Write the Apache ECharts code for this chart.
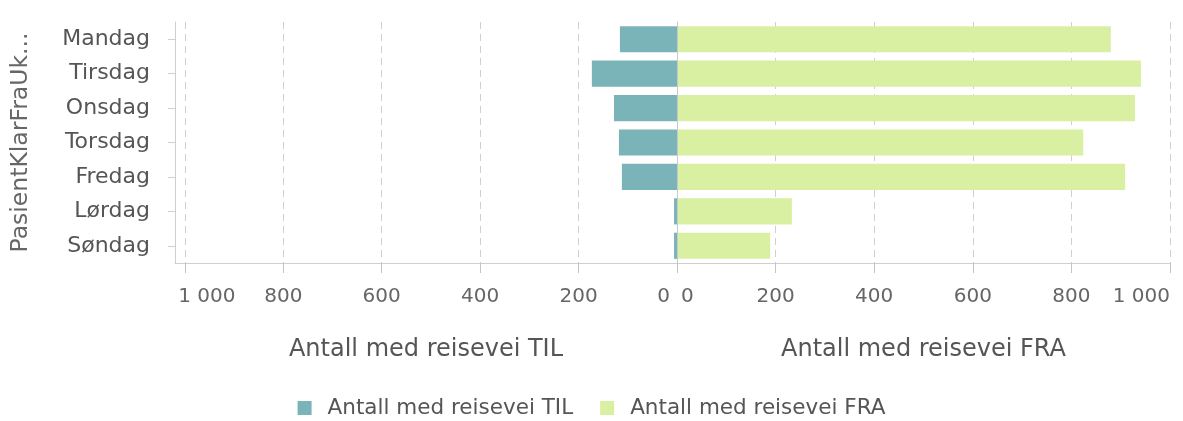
<!DOCTYPE html>
<html><head><meta charset="utf-8">
<script src="https://cdn.jsdelivr.net/npm/echarts@6/dist/echarts.min.js"></script>
<style>html,body{margin:0;padding:0;background:#fff}#c{width:1183px;height:421px}</style>
</head><body><div id="c"></div>
<script>
const categories = ['Mandag','Tirsdag','Onsdag','Torsdag','Fredag','Lørdag','Søndag'];
const tilValues = [116,173,128,118,112,6,6];
const fraValues = [880,941,929,824,909,233,189];
const tickValues = [0,200,400,600,800,1000];
const seriesNames = ['Antall med reisevei TIL','Antall med reisevei FRA'];
const yAxisName = 'PasientKlarFraUk...';

const FONT = 'DejaVu Sans';
const gridLine = '#cfcfcf';
const tickColor = '#c4c4c4';
const num = v => String(v).replace(/\B(?=(\d{3})+(?!\d))/g, ' ');
const labelBase = {fontSize: 20, color: '#666', fontFamily: FONT};

const chart = echarts.init(document.getElementById('c'));
chart.setOption({
  animation: false,
  textStyle: {fontFamily: FONT},
  legend: {
    top: 392, left: 'center', itemWidth: 14, itemHeight: 14, itemGap: 27, icon: 'rect',
    textStyle: {fontSize: 21.5, color: '#555', fontFamily: FONT, padding: [0, 0, 0, 11]},
    data: seriesNames
  },
  grid: [
    {left: 175, width: 502, top: 22, height: 241},
    {left: 677, right: 13, top: 22, height: 241}
  ],
  xAxis: [
    {
      gridIndex: 0, type: 'value', inverse: true, min: 0, max: 1020, interval: 200,
      name: seriesNames[0], nameLocation: 'middle', nameGap: 75,
      nameTextStyle: {fontSize: 24, color: '#555', fontFamily: FONT},
      axisLine: {show: true, lineStyle: {color: gridLine}},
      axisTick: {show: true, length: 10, customValues: tickValues, lineStyle: {color: tickColor, width: 1}},
      axisLabel: Object.assign({}, labelBase, {
        customValues: tickValues, margin: 24, alignMinLabel: 'right', alignMaxLabel: 'center',
        formatter: v => v === 0 ? '{z|0}' : (v === 1000 ? '{m|' + num(v) + '}' : num(v)),
        rich: {
          z: Object.assign({}, labelBase, {padding: [0, 7, 0, 0]}),
          m: Object.assign({}, labelBase, {padding: [0, 0, 0, 44]})
        }
      }),
      splitLine: {show: true, showMinLine: false, showMaxLine: true,
        lineStyle: {color: gridLine, type: [7, 5]}}
    },
    {
      gridIndex: 1, type: 'value', min: 0, max: 1000, interval: 200,
      name: seriesNames[1], nameLocation: 'middle', nameGap: 75,
      nameTextStyle: {fontSize: 24, color: '#555', fontFamily: FONT},
      axisLine: {show: true, lineStyle: {color: gridLine}},
      axisTick: {show: true, length: 10, interval: 0, lineStyle: {color: tickColor, width: 1}},
      axisLabel: Object.assign({}, labelBase, {
        margin: 24, alignMinLabel: 'left', alignMaxLabel: 'right',
        formatter: v => v === 0 ? '{z|0}' : num(v),
        rich: {z: Object.assign({}, labelBase, {padding: [0, 0, 0, 4]})}
      }),
      splitLine: {show: true, showMinLine: false, showMaxLine: true,
        lineStyle: {color: gridLine, type: [7, 5]}}
    }
  ],
  yAxis: [
    {gridIndex: 0, type: 'category', data: categories, inverse: true,
     name: yAxisName, nameLocation: 'middle', nameGap: 142,
     nameTextStyle: {fontSize: 23.5, color: '#666', fontFamily: FONT},
     axisLine: {show: true, onZero: false, lineStyle: {color: gridLine}},
     axisTick: {show: true, length: 7, alignWithLabel: true, lineStyle: {color: gridLine}},
     axisLabel: {fontSize: 22, color: '#555', margin: 25, fontFamily: FONT}},
    {gridIndex: 1, type: 'category', data: categories, inverse: true, z: 5,
     axisLine: {show: true, onZero: false, lineStyle: {color: '#c8c8c8'}},
     axisTick: {show: false}, axisLabel: {show: false}}
  ],
  series: [
    {name: seriesNames[0], type: 'bar', xAxisIndex: 0, yAxisIndex: 0, data: tilValues,
     barCategoryGap: '24%', itemStyle: {color: '#7ab4b8'}},
    {name: seriesNames[1], type: 'bar', xAxisIndex: 1, yAxisIndex: 1, data: fraValues,
     barCategoryGap: '24%', itemStyle: {color: '#d9f0a2'}}
  ]
});
</script></body></html>
